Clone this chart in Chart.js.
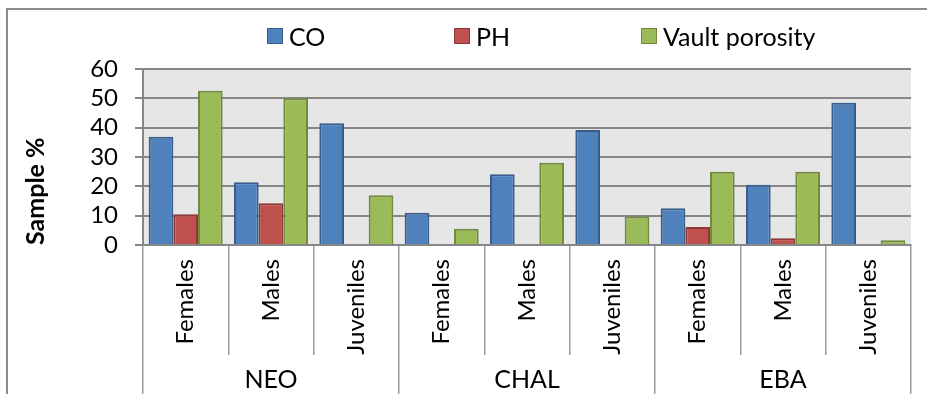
<!DOCTYPE html>
<html>
<head>
<meta charset="utf-8">
<title>Sample %</title>
<script src="https://cdn.jsdelivr.net/npm/chart.js@4.4.1/dist/chart.umd.min.js"></script>
<style>
    html, body { margin: 0; padding: 0; background: #fff; }
    #wrap { position: relative; width: 927px; height: 394px; overflow: hidden; font-family: Lato, sans-serif; }
    #frame { position: absolute; left: 6px; top: 8px; width: 960px; height: 420px;
             border-left: 2px solid #8c8c8c; border-top: 2px solid #8c8c8c; pointer-events: none; }
    #legend { position: absolute; top: 22px; left: 267px; display: flex; }
    #legend .item { width: 187px; display: flex; align-items: center; font-size: 25px; line-height: 28px; color: #000; white-space: nowrap; }
    #legend .sw { width: 14px; height: 14px; border: 1px solid; margin-right: 6px; box-sizing: content-box; }
    canvas { position: absolute; left: 0; top: 0; }
</style>
</head>
<body>
<div id="wrap">
    <canvas id="chart" width="927" height="394"></canvas>
    <div id="legend"></div>
    <div id="frame"></div>
</div>
<script>
    "use strict";

    var groups = ["NEO", "CHAL", "EBA"];
    var categories = ["Females", "Males", "Juveniles",
                      "Females", "Males", "Juveniles",
                      "Females", "Males", "Juveniles"];
    var coValues = [36.9, 21.4, 41.5, 11.0, 24.1, 39.2, 12.5, 20.5, 48.5];
    var phValues = [10.5, 14.2, null, null, null, null, 6.1, 2.3, null];
    var vaultValues = [52.6, 50.0, 17.0, 5.5, 28.0, 9.7, 25.0, 25.0, 1.6];
    var yTicks = [0, 10, 20, 30, 40, 50, 60];

    var font = { family: "Lato, sans-serif", size: 25 };
    var gridGray = "#878787";
    var tickGray = "#9a9a9a";

    // gray fill behind the bars
    var plotBackground = {
        id: "plotBackground",
        beforeDraw: function (chart) {
            var a = chart.chartArea;
            var ctx = chart.ctx;
            ctx.save();
            ctx.fillStyle = "#e6e6e6";
            ctx.fillRect(a.left, a.top, a.right - a.left, a.bottom - a.top);
            ctx.restore();
        }
    };

    function bars(label, data, fill, edge) {
        return {
            label: label,
            data: data,
            backgroundColor: fill,
            borderColor: edge,
            borderWidth: 2,
            categoryPercentage: 0.867,
            barPercentage: 1.0
        };
    }

    var chart = new Chart(document.getElementById("chart").getContext("2d"), {
        type: "bar",
        data: {
            labels: categories,
            datasets: [
                bars("CO", coValues, "#4f81bd", "#385d8a"),
                bars("PH", phValues, "#c0504d", "#8c3836"),
                bars("Vault porosity", vaultValues, "#9bbb59", "#71893f")
            ]
        },
        options: {
            responsive: false,
            animation: false,
            devicePixelRatio: 1,
            layout: { padding: { top: 69, left: 7, right: 16, bottom: 0 } },
            plugins: {
                legend: { display: false },
                tooltip: { enabled: false }
            },
            scales: {
                x: {
                    weight: 0,
                    offset: true,
                    grid: { offset: true, drawOnChartArea: false, tickLength: 110, color: tickGray, lineWidth: 1.5 },
                    border: { display: true, color: gridGray, width: 2 },
                    ticks: { minRotation: 90, maxRotation: 90, autoSkip: false, padding: -96,
                             font: { family: "Lato, sans-serif", size: 24 }, color: "#000" },
                    afterFit: function (s) { s.height = 110; }
                },
                x2: {
                    type: "category",
                    position: "bottom",
                    labels: groups,
                    weight: 1,
                    offset: true,
                    grid: { offset: true, drawOnChartArea: false, tickLength: 39, color: tickGray, lineWidth: 1.5 },
                    border: { display: false },
                    ticks: { maxRotation: 0, autoSkip: false, padding: -29, font: font, color: "#000" },
                    afterFit: function (s) { s.height = 39; }
                },
                y: {
                    min: 0,
                    max: 60,
                    grid: { color: gridGray, lineWidth: 2, tickLength: 8 },
                    border: { display: true, color: gridGray, width: 2 },
                    ticks: { autoSkip: false, padding: 17, font: { family: "Lato, sans-serif", size: 24 }, color: "#000" },
                    afterBuildTicks: function (s) {
                        s.ticks = yTicks.map(function (v) { return { value: v }; });
                    },
                    title: {
                        display: true,
                        text: "Sample %",
                        align: "start",
                        color: "#000",
                        font: { family: "Lato, sans-serif", size: 25, weight: "bold" },
                        padding: { top: 14, bottom: 0 }
                    },
                    afterFit: function (s) { s.width = 136; }
                }
            }
        },
        plugins: [plotBackground]
    });

    // legend laid out like the spreadsheet one: evenly spaced entries
    var legendBox = document.getElementById("legend");
    chart.data.datasets.forEach(function (ds) {
        var item = document.createElement("div");
        item.className = "item";
        var sw = document.createElement("span");
        sw.className = "sw";
        sw.style.background = ds.backgroundColor;
        sw.style.borderColor = ds.borderColor;
        item.appendChild(sw);
        item.appendChild(document.createTextNode(ds.label));
        legendBox.appendChild(item);
    });
</script>
</body>
</html>
